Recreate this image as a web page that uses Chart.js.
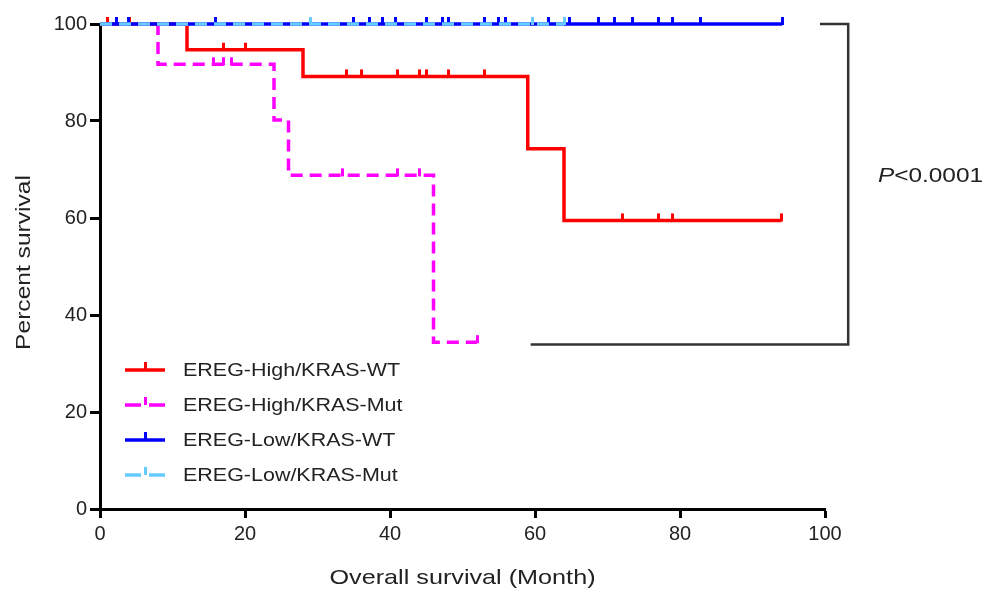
<!DOCTYPE html>
<html>
<head>
<meta charset="utf-8">
<script src="https://cdn.jsdelivr.net/npm/chart.js@4.4.1/dist/chart.umd.min.js"></script>
<style>
  html, body { margin: 0; padding: 0; background: #fff; }
</style>
</head>
<body>
<canvas id="kmChart" width="992" height="596"></canvas>
<script>
// groups, in legend order
const groupNames = ['EREG-High/KRAS-WT', 'EREG-High/KRAS-Mut', 'EREG-Low/KRAS-WT', 'EREG-Low/KRAS-Mut'];
const groupColors = ['#ff0000', '#ff00ff', '#0000ff', '#66ccff'];

// step points (month, percent) and censor times
const hiWtTimes = [0, 12, 28, 59, 64];
const hiWtSurv = [100, 94.7, 89.2, 74.3, 59.5];
const hiWtCensor = [1, 4, 17, 20, 34, 36, 41, 44, 45, 48, 53, 72, 77, 79, 94];

const hiMutTimes = [0, 8, 24, 26, 46];
const hiMutSurv = [100, 91.7, 80.2, 68.8, 34.4];
const hiMutCensor = [15.7, 17, 18.2, 33.4, 41, 44, 52];

const loWtTimes = [0];
const loWtSurv = [100];
const loWtCensor = [2.3, 3.9, 15.9, 34.9, 37.2, 39, 40.7, 45.1, 47.2, 48, 53.1, 54.9, 55.9, 61.8, 64.8, 68.7, 71, 73.5, 77, 78.9, 82.8, 94.1];

const loMutTimes = [0];
const loMutSurv = [100];
const loMutCensor = [29, 59.7, 64];

// comparison bracket
const bracketX = [59.4, 103.2, 103.2, 99.3];
const bracketY = [33.9, 33.9, 100, 100];
const pText = '<0.0001';

const xTicks = [0, 20, 40, 60, 80, 100];
const yTicks = [0, 20, 40, 60, 80, 100];
const xTitle = 'Overall survival (Month)';
const yTitle = 'Percent survival';

const FONT = 'Liberation Sans, Arial, sans-serif';

function kmPoints(times, surv, censor) {
  const pts = times.map((t, i) => ({ x: t, y: surv[i], c: false }));
  censor.forEach(t => {
    let s = surv[0];
    times.forEach((tt, i) => { if (tt <= t) s = surv[i]; });
    pts.push({ x: t, y: s, c: true });
  });
  pts.sort((a, b) => a.x - b.x);
  return pts;
}

// little upward tick used for censored subjects
const tickCache = {};
function tickImg(color) {
  if (tickCache[color]) return tickCache[color];
  const c = document.createElement('canvas');
  c.width = 3; c.height = 16;
  const g = c.getContext('2d');
  g.fillStyle = color;
  g.fillRect(0, 1, 3, 8);
  tickCache[color] = c;
  return c;
}

function kmDataset(i, times, surv, censor, dash, order) {
  const color = groupColors[i];
  return {
    label: groupNames[i],
    data: kmPoints(times, surv, censor),
    borderColor: color,
    backgroundColor: color,
    borderWidth: 3.5,
    borderDash: dash,
    stepped: true,
    fill: false,
    clip: false,
    order: order,
    pointRadius: ctx => (ctx.raw && ctx.raw.c ? 4 : 0),
    pointStyle: () => tickImg(color)
  };
}

const datasets = [
  kmDataset(3, loMutTimes, loMutSurv, loMutCensor, [12, 7], 0),
  kmDataset(2, loWtTimes, loWtSurv, loWtCensor, [], 1),
  kmDataset(0, hiWtTimes, hiWtSurv, hiWtCensor, [], 2),
  kmDataset(1, hiMutTimes, hiMutSurv, hiMutCensor, [12, 7], 3),
  {
    label: 'bracket',
    data: bracketX.map((x, i) => ({ x: x, y: bracketY[i] })),
    borderColor: '#333',
    borderWidth: 2.5,
    pointRadius: 0,
    clip: false,
    order: 4
  }
];

function stretchedText(ctx, text, x, y, size, sx, rot, align) {
  ctx.save();
  ctx.translate(x, y);
  if (rot) ctx.rotate(rot);
  ctx.scale(sx, 1);
  ctx.font = size + 'px ' + FONT;
  ctx.fillStyle = '#222';
  ctx.textBaseline = 'middle';
  ctx.textAlign = align || 'left';
  ctx.fillText(text, 0, 0);
  ctx.restore();
}

// in-plot legend, axis titles and p value
const kmExtras = {
  id: 'kmExtras',
  afterDraw(chart) {
    const ctx = chart.ctx;
    const area = chart.chartArea;
    const xs = chart.scales.x, ys = chart.scales.y;
    ctx.save();
    const dashed = [false, true, false, true];
    groupNames.forEach((name, i) => {
      const y = area.top + 346 + i * 35;
      const x0 = area.left + 25, x1 = area.left + 65;
      ctx.strokeStyle = groupColors[i];
      ctx.lineWidth = 3.5;
      ctx.beginPath();
      if (dashed[i]) {
        ctx.moveTo(x0, y); ctx.lineTo(x0 + 16, y);
        ctx.moveTo(x0 + 24, y); ctx.lineTo(x1, y);
      } else {
        ctx.moveTo(x0, y); ctx.lineTo(x1, y);
      }
      ctx.stroke();
      ctx.fillStyle = groupColors[i];
      ctx.fillRect(x0 + 19, y - 8, 3, 8);
      stretchedText(ctx, name, area.left + 83, y + 1, 19, 1.13);
    });

    // axis titles
    stretchedText(ctx, xTitle, (area.left + area.right) / 2, 578, 21, 1.2, 0, 'center');
    stretchedText(ctx, yTitle, 24, (area.top + area.bottom) / 2 - 4, 21, 1.17, -Math.PI / 2, 'center');

    // p value to the right of the bracket
    const px = xs.getPixelForValue(107.3);
    const py = ys.getPixelForValue(68.6);
    ctx.save();
    ctx.translate(px, py);
    ctx.scale(1.22, 1);
    ctx.fillStyle = '#222';
    ctx.textBaseline = 'middle';
    ctx.font = 'italic 20px ' + FONT;
    ctx.fillText('P', 0, 0);
    const w = ctx.measureText('P').width;
    ctx.font = '20px ' + FONT;
    ctx.fillText(pText, w, 0);
    ctx.restore();
    ctx.restore();
  }
};

new Chart(document.getElementById('kmChart'), {
  type: 'line',
  data: { datasets: datasets },
  plugins: [kmExtras],
  options: {
    responsive: false,
    animation: false,
    events: [],
    layout: { padding: { top: 24, right: 167, left: 0, bottom: 0 } },
    plugins: { legend: { display: false }, tooltip: { enabled: false } },
    scales: {
      x: {
        type: 'linear', min: 0, max: 100,
        afterBuildTicks: s => { s.ticks = xTicks.map(v => ({ value: v })); },
        afterFit: s => { s.height = 87; },
        ticks: { color: '#222', font: { family: FONT, size: 20 }, padding: 4 },
        grid: { drawOnChartArea: false, tickLength: 9, tickWidth: 3, tickColor: '#000' },
        border: { color: '#000', width: 3 }
      },
      y: {
        type: 'linear', min: 0, max: 100,
        afterBuildTicks: s => { s.ticks = yTicks.map(v => ({ value: v })); },
        afterFit: s => { s.width = 100; },
        ticks: { color: '#222', font: { family: FONT, size: 20 }, padding: 3 },
        grid: { drawOnChartArea: false, tickLength: 10, tickWidth: 3, tickColor: '#000' },
        border: { color: '#000', width: 3 }
      }
    }
  }
});
</script>
</body>
</html>
